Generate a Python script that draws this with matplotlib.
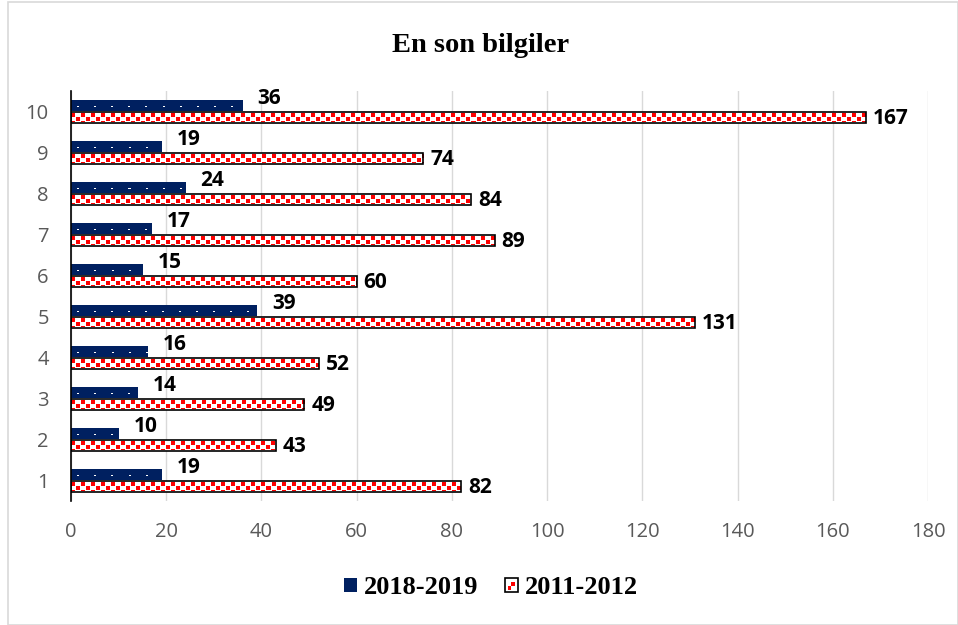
import matplotlib
matplotlib.use("Agg")
import matplotlib.pyplot as plt
import numpy as np
from matplotlib.patches import Rectangle, Patch
from matplotlib.legend_handler import HandlerBase
from matplotlib.colors import to_rgb

categories = ["1", "2", "3", "4", "5", "6", "7", "8", "9", "10"]
s2018 = [19, 10, 14, 16, 39, 15, 17, 24, 19, 36]
s2011 = [82, 43, 49, 52, 131, 60, 89, 84, 74, 167]
xticks = [0, 20, 40, 60, 80, 100, 120, 140, 160, 180]
title = "En son bilgiler"
legend_labels = ["2018-2019", "2011-2012"]

navy = "#002060"
red = "#ff0000"
grey_txt = "#595959"

fig = plt.figure(figsize=(9.58, 6.25), dpi=100)
ax = fig.add_axes([71/958, 1-501/625, (928-71)/958, (501-91)/625])

y = np.arange(len(categories))
h = 0.26
off = 0.145

blue_bars = ax.barh(y + off, s2018, height=h, color=navy, linewidth=0, zorder=3)
red_bars = ax.barh(y - off, s2011, height=h, color="white", linewidth=0, zorder=3)
red_edges = ax.barh(y - off, s2011, height=h, color="none", edgecolor="black", linewidth=1.2, zorder=5)

ax.set_xlim(0, 180)
ax.set_ylim(-0.5, len(categories) - 0.5)
fig.canvas.draw()


def bar_px(bar):
    bb = bar.get_window_extent()
    return max(int(round(bb.width)), 1), max(int(round(bb.height)), 1)


def dot_texture(w, hpx):
    t = np.empty((hpx, w, 3))
    t[:] = to_rgb(navy)
    r = hpx // 2 + 1
    t[r:r + 1, 6::17] = 1.0
    t[r:r + 1, 7::17] = 1.0
    return t


def checker_texture(w, hpx):
    t = np.ones((hpx, w, 3))
    rr, cc = np.mgrid[0:hpx, 0:w]
    k = (rr - 1) // 4
    mask = (((cc + 5 * (k % 2)) % 10) < 4) & (((rr - 1) % 4) < 4) & (rr >= 1) & (rr < hpx - 1)
    t[mask] = to_rgb(red)
    return t


for bar in blue_bars:
    w, hp = bar_px(bar)
    x0, y0 = bar.get_x(), bar.get_y()
    ax.imshow(dot_texture(w, hp), extent=(x0, x0 + bar.get_width(), y0, y0 + bar.get_height()),
              aspect="auto", interpolation="nearest", zorder=4, origin="upper")
for bar in red_bars:
    w, hp = bar_px(bar)
    x0, y0 = bar.get_x(), bar.get_y()
    ax.imshow(checker_texture(w, hp), extent=(x0, x0 + bar.get_width(), y0, y0 + bar.get_height()),
              aspect="auto", interpolation="nearest", zorder=4, origin="upper")

lab_font = dict(family=["Open Sans", "DejaVu Sans"], fontweight="bold", fontsize=15)
for yi, v in zip(y, s2018):
    ax.annotate(str(v), (v, yi + off), xytext=(11, 5), textcoords="offset points",
                ha="left", va="center", **lab_font)
for yi, v in zip(y, s2011):
    ax.annotate(str(v), (v, yi - off), xytext=(5, -1), textcoords="offset points",
                ha="left", va="center", **lab_font)

ax.set_xlim(0, 180)
ax.set_ylim(-0.5, len(categories) - 0.5)
ax.set_xticks(xticks)
ax.set_yticks(y)
ax.set_yticklabels(categories)
for lbl in ax.get_xticklabels() + ax.get_yticklabels():
    lbl.set_fontfamily(["Open Sans", "DejaVu Sans"])
    lbl.set_fontsize(14.5)
    lbl.set_color(grey_txt)
ax.tick_params(axis="both", length=0)
ax.tick_params(axis="x", pad=15)
ax.tick_params(axis="y", pad=16)
ax.grid(axis="x", color="#d9d9d9", linewidth=1, zorder=0)
ax.set_axisbelow(True)
for s in ["top", "right", "bottom"]:
    ax.spines[s].set_visible(False)
ax.spines["left"].set_color("black")
ax.spines["left"].set_linewidth(1.2)
ax.spines["left"].set_zorder(6)

fig.text(0.5 + 2/958, 1 - 45/625, title, ha="center", va="center",
         family=["Liberation Serif"], fontweight="bold", fontsize=20.5)


class RedHandler(HandlerBase):
    def create_artists(self, legend, orig_handle, xdescent, ydescent, width, height, fontsize, trans):
        x0, y0 = -xdescent, -ydescent
        s = min(width, height)
        arts = [Rectangle((x0, y0), s, s, facecolor="white", edgecolor="black", lw=1.2, transform=trans)]
        for (fx, fy, fs) in [(0.45, 0.4, 0.35), (0.2, 0.15, 0.28)]:
            arts.append(Rectangle((x0 + fx * s, y0 + fy * s), fs * s, fs * s,
                                  facecolor=red, edgecolor="none", transform=trans))
        return arts


class BlueHandler(HandlerBase):
    def create_artists(self, legend, orig_handle, xdescent, ydescent, width, height, fontsize, trans):
        s = min(width, height)
        return [Rectangle((-xdescent, -ydescent), s, s, facecolor=navy, edgecolor="none", transform=trans)]


h_blue = Patch(facecolor=navy)
h_red = Patch(facecolor=red)
leg = fig.legend([h_blue, h_red], legend_labels, loc="center",
                 bbox_to_anchor=(0.5 + 12/958, 1 - 587/625),
                 ncol=2, frameon=False, handlelength=0.5, handleheight=0.5, handletextpad=0.25,
                 columnspacing=1.0, handler_map={h_blue: BlueHandler(), h_red: RedHandler()},
                 prop=dict(family="Liberation Serif", weight="bold", size=19))

fig.patches.append(Rectangle((8/958, 0), 1 - 8/958, 1 - 2/625, transform=fig.transFigure,
                             fill=False, edgecolor="#d9d9d9", linewidth=1.2))

fig.savefig("out.png", dpi=100)
